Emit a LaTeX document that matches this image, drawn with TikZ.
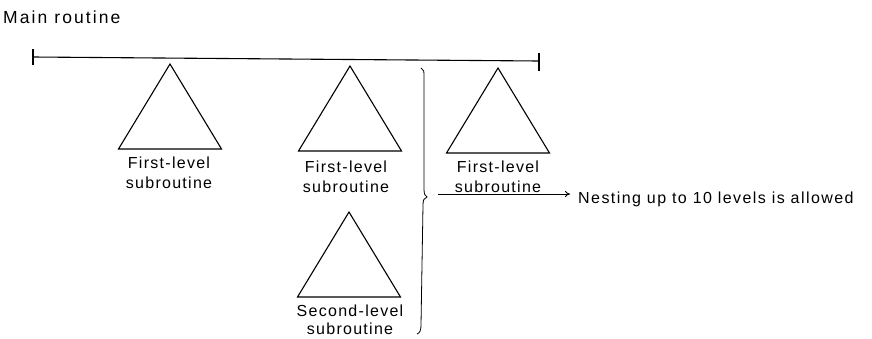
\documentclass[tikz,border=0pt]{standalone}
\usepackage{fontspec}
\setmainfont{Liberation Sans}
\usetikzlibrary{arrows.meta}
\tikzset{
  lbl/.style={inner sep=0pt, align=center, anchor=north,
    font=\addfontfeature{LetterSpace=8}\fontsize{16}{19.5}\selectfont},
  tri/.style={line width=1.1pt, line join=miter},
  mainline/.style={line width=1.1pt},
  bracestyle/.style={line width=0.8pt},
  arr/.style={line width=0.9pt, -{To[length=5pt,width=6pt]}}
}
\newcommand{\subtri}[3]{% name, base centre x, base y
  \coordinate (#1) at (#2,#3);
  \draw[tri] ([xshift=-51.5pt]#1) -- ([yshift=85pt]#1) -- ([xshift=51.5pt]#1) -- cycle;
}
\begin{document}
\begin{tikzpicture}[x=1pt,y=-1pt]
\useasboundingbox (0,0) rectangle (872,338);

% title
\node[inner sep=0pt, anchor=base west,
  font=\addfontfeature{LetterSpace=12}\fontsize{17.5}{20}\selectfont] (title) at (3,23) {Main routine};

% main routine line with end ticks
\coordinate (ml) at (33,57);
\coordinate (mr) at (539,61);
\draw[mainline] (ml) -- (mr);
\draw[mainline] ([yshift=8pt]ml) -- ([yshift=-8pt]ml);
\draw[mainline] ([yshift=8pt]mr) -- ([yshift=-10pt]mr);

% triangles
\subtri{t1}{170}{149}
\subtri{t2}{350}{151}
\subtri{t3}{498}{153}
\subtri{t4}{349}{297}

% labels
\node[lbl] (l1) at (169,157) {First-level\\subroutine};
\node[lbl] (l2) at (346,161) {First-level\\subroutine};
\node[lbl] (l3) at (498,161) {First-level\\subroutine};
\node[lbl, font=\addfontfeature{LetterSpace=8}\fontsize{16}{18}\selectfont] (l4) at (350,305) {Second-level\\subroutine};

% brace
\coordinate (btop) at (421,68);
\coordinate (bcusp) at (427,197);
\coordinate (bbot) at (417,334);
\draw[bracestyle] (btop) .. controls (424,69) and (424,72) .. (424,76)
  -- (424,189) .. controls (424,194) and (425,196) .. (bcusp)
  .. controls (424,198) and (423,200) .. (423,205)
  -- (421,325) .. controls (421,330) and (420,333) .. (bbot);

% arrow and note
\node[inner sep=0pt, anchor=base west,
  font=\addfontfeature{LetterSpace=9}\fontsize{16}{20}\selectfont] (nest) at (578,203)
  {Nesting up to 10 levels is allowed};
\coordinate (as) at (438,194);
\draw[arr, shorten >=8pt] (as) -- (as -| nest.west);
\end{tikzpicture}
\end{document}
